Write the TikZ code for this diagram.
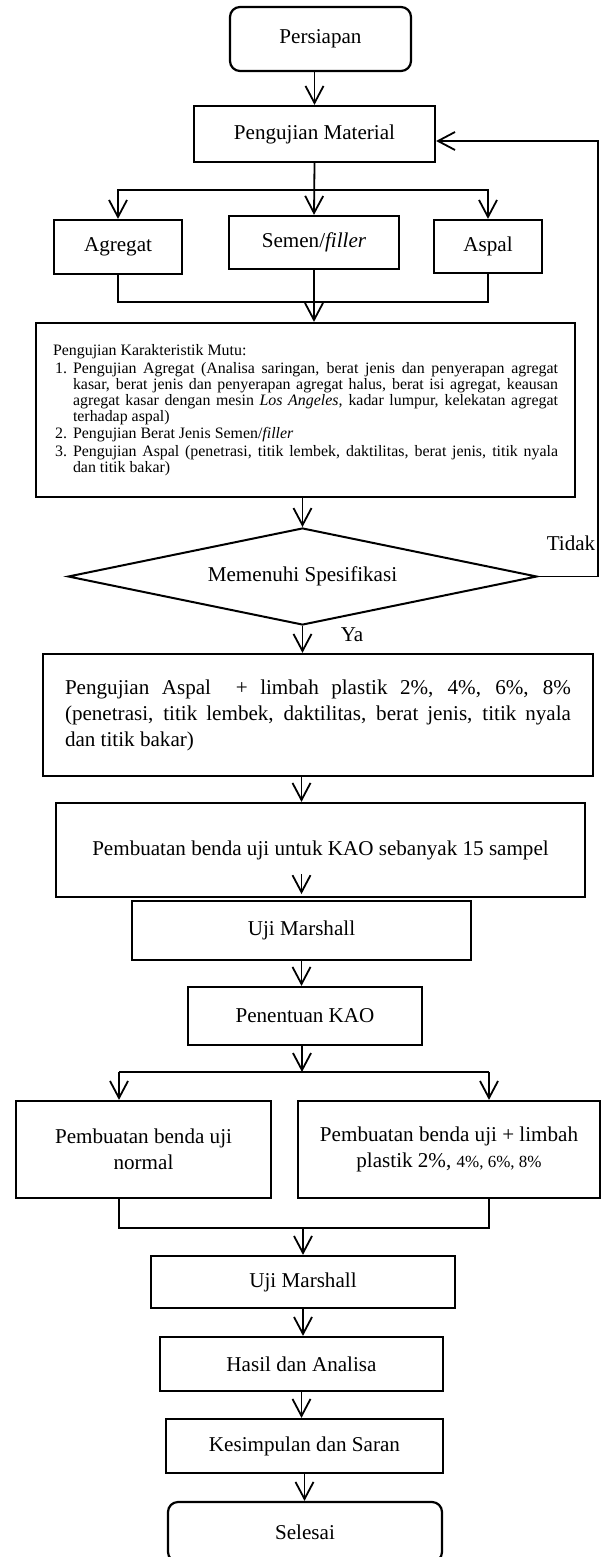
\documentclass[tikz,border=0pt]{standalone}
\usepackage{fontspec}
\setmainfont{Liberation Serif}
\usetikzlibrary{arrows.meta,shapes.geometric,calc}

\begin{document}
\begin{tikzpicture}[x=1pt, y=-1pt,
    box/.style = {draw, line width=2.2pt, inner sep=0pt, align=center, font=\fontsize{21.1}{26}\selectfont},
    term/.style = {box, rounded corners=10pt},
    dec/.style = {box, shape=diamond, aspect=4.835, line width=2pt},
    ln/.style = {line width=1.8pt},
    arr/.style = {ln, -{Straight Barb[length=17pt,width=18pt]}},
    lbl/.style = {font=\fontsize{21.1}{26}\selectfont}]
    \useasboundingbox (0,0) rectangle (601,1557);

    \node[term, minimum width=181pt, minimum height=64pt] (per) at (320.5,39) {Persiapan};
    \node[box, minimum width=241pt, minimum height=56pt] (pm) at (314.5,134) {Pengujian Material};
    \node[box, minimum width=128pt, minimum height=54pt] (agr) at (118,247) {Agregat};
    \node[box, minimum width=170pt, minimum height=53pt] (sem) at (314,242.5) {Semen/\textit{filler}};
    \node[box, minimum width=108pt, minimum height=53pt] (asp) at (488,246.5) {Aspal};
    \node[box, minimum width=539pt, minimum height=174pt, text width=505pt, align=justify,
        font=\fontsize{15.9}{16}\selectfont] (kar) at (305.5,410) {Pengujian Karakteristik Mutu:
        \begin{list}{}{\leftmargin=20pt \labelwidth=14pt \labelsep=6pt \topsep=2pt \partopsep=0pt \parsep=0pt \itemsep=1.5pt}
        \item[1.] Pengujian Agregat (Analisa saringan, berat jenis dan penyerapan agregat\linebreak
            kasar, berat jenis dan penyerapan agregat halus, berat isi agregat, keausan\linebreak
            agregat kasar dengan mesin \textit{Los Angeles}, kadar lumpur, kelekatan agregat\linebreak
            terhadap aspal)
        \item[2.] Pengujian Berat Jenis Semen/\textit{filler}
        \item[3.] Pengujian Aspal (penetrasi, titik lembek, daktilitas, berat jenis, titik nyala\linebreak
            dan titik bakar)
        \end{list}};
    \node[dec, minimum width=469pt, minimum height=97pt] (dia) at (302.5,576.5) {Memenuhi Spesifikasi};
    \node[lbl] (tdk) at (571,543) {Tidak};
    \node[lbl] (ya) at (352,635) {Ya};
    \node[box, minimum width=550pt, minimum height=122pt, text width=506pt, align=justify] (uas) at (318,715)
        {Pengujian Aspal \ + limbah plastik 2\%, 4\%, 6\%, 8\%\linebreak
        (penetrasi, titik lembek, daktilitas, berat jenis, titik nyala\linebreak
        dan titik bakar)};
    \node[box, minimum width=529pt, minimum height=94pt] (kao) at (320.5,850) {Pembuatan benda uji untuk KAO sebanyak 15 sampel};
    \node[box, minimum width=339pt, minimum height=59pt] (um1) at (301.5,930.5) {Uji Marshall};
    \node[box, minimum width=234pt, minimum height=58pt] (pen) at (305,1016) {Penentuan KAO};
    \node[box, minimum width=255pt, minimum height=97pt] (lb) at (143.5,1149.5) {Pembuatan benda uji\\ normal};
    \node[box, minimum width=302pt, minimum height=97pt] (rb) at (449,1149.5)
        {Pembuatan benda uji + limbah\\ plastik 2\%, {\fontsize{17}{26}\selectfont 4\%, 6\%, 8\%}};
    \node[box, minimum width=304pt, minimum height=52pt] (um2) at (303,1282) {Uji Marshall};
    \node[box, minimum width=283pt, minimum height=54pt] (has) at (301.5,1364) {Hasil dan Analisa};
    \node[box, minimum width=277pt, minimum height=54pt] (kes) at (304.5,1446) {Kesimpulan dan Saran};
    \node[term, minimum width=274pt, minimum height=60pt] (sel) at (305,1532) {Selesai};

    \coordinate (b1) at (314,190);
    \coordinate (j1) at (314,302);
    \coordinate (fb) at (598,576.5);
    \coordinate (b2) at (302,1072);
    \coordinate (b2l) at (119,1072);
    \coordinate (b2r) at (489,1072);
    \coordinate (j2l) at (119,1228);
    \coordinate (j2r) at (489,1228);

    \draw[arr] (per.south -| pm) -- (pm.north);
    \draw[arr] (pm.south) -- (sem.north);
    \draw[arr] (b1) -| (agr.north);
    \draw[arr] (b1) -| (asp.north);
    \draw[ln] (agr.south) |- (j1) -| (asp.south);
    \draw[arr] (sem.south) -- (sem.south |- kar.north);
    \draw[arr] (kar.south -| dia) -- (dia.north);
    \draw[arr] (dia.east) -- (fb) |- ($(pm.east)+(0,7)$);
    \draw[arr] (dia.south) -- (dia.south |- uas.north);
    \draw[arr] (uas.south -| um1) -- (kao.north -| um1);
    \draw[arr] ($(kao.south -| um1)+(0,-24)$) -- ($(kao.south -| um1)+(0,-4)$);
    \draw[arr] (um1.south) -- (um1.south |- pen.north);
    \draw[arr] (pen.south -| b2) -- (b2);
    \draw[ln] (b2l) -- (b2r);
    \draw[arr] (b2l) -- (b2l |- lb.north);
    \draw[arr] (b2r) -- (b2r |- rb.north);
    \draw[ln] (j2l |- lb.south) -- (j2l) -- (j2r) -- (j2r |- rb.south);
    \draw[arr] (j2l -| um2) -- (um2.north);
    \draw[arr] (um2.south) -- (um2.south |- has.north);
    \draw[arr] (has.south) -- (has.south |- kes.north);
    \draw[arr] (kes.south) -- (kes.south |- sel.north);
\end{tikzpicture}
\end{document}
